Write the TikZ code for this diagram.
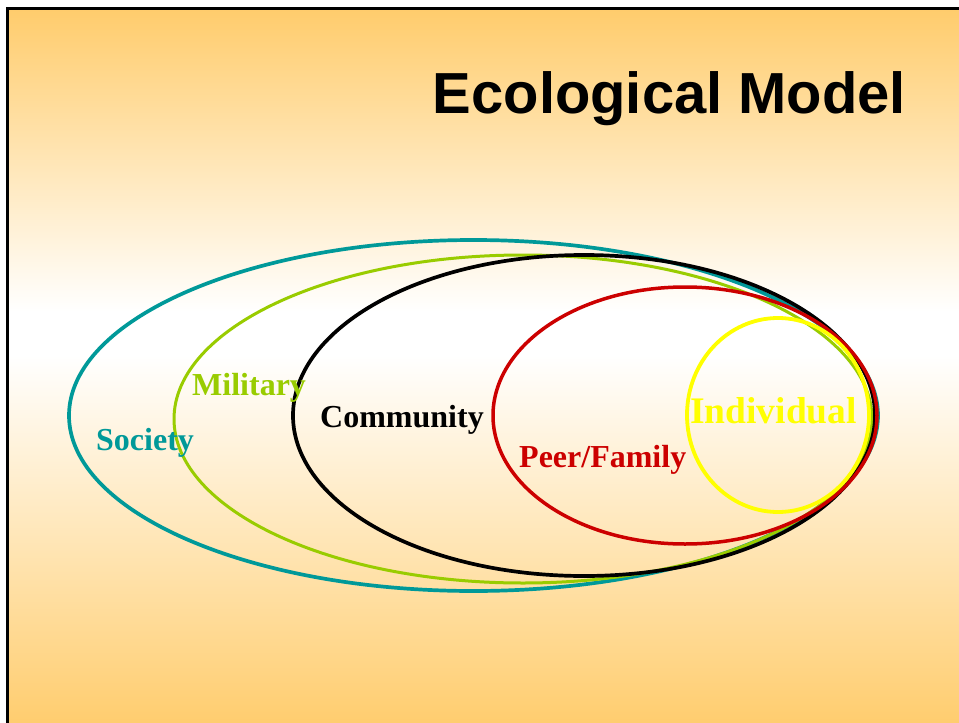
\documentclass[tikz,border=0pt]{standalone}
\usepackage{fontspec}
\setmainfont{Liberation Serif}
\newfontfamily\titlefont{Liberation Sans}
\usetikzlibrary{shapes.geometric}
\definecolor{orng}{RGB}{255,204,108}
\definecolor{societyc}{RGB}{0,153,153}
\definecolor{militaryc}{RGB}{153,204,0}
\definecolor{peerc}{RGB}{204,0,0}
\definecolor{indivc}{RGB}{255,255,0}
\pgfdeclareverticalshading{slidebg}{100bp}{color(0bp)=(orng); color(25bp)=(orng); color(51bp)=(white); color(54bp)=(white); color(75bp)=(orng); color(100bp)=(orng)}
\tikzset{
  ring/.style={ellipse, draw, inner sep=0pt, line width=3.7pt},
  lbl/.style={inner sep=0pt, anchor=base west, font=\bfseries\fontsize{32}{32}\selectfont},
}
\begin{document}
\begin{tikzpicture}[x=1pt,y=-1pt]
\useasboundingbox (0,0) rectangle (959,723);
\fill[white] (0,0) rectangle (959,723);
\fill[shading=slidebg] (7.5,8.5) rectangle (965,730);
\draw[line width=2.5pt] (7.5,730) -- (7.5,8.5) -- (965,8.5);
\node[inner sep=0pt, anchor=base east, font=\titlefont\bfseries\fontsize{57.9}{60}\selectfont] (title) at (906,113) {Ecological Model};
% rings
\node[ring, draw=societyc, minimum width=809pt, minimum height=351pt] (society) at (473.5,415.5) {};
\node[ring, draw=militaryc, line width=3pt, minimum width=698pt, minimum height=328pt] (military) at (523,419) {};
\node[ring, draw=black, minimum width=582pt, minimum height=321pt] (community) at (584,415.5) {};
\node[ring, draw=peerc, line width=3.5pt, minimum width=384pt, minimum height=257pt] (peer) at (685,415.5) {};
\node[ring, draw=indivc, line width=3.8pt, minimum width=182pt, minimum height=194pt] (individual) at (778,415) {};
% labels
\node[lbl, text=societyc] (societyl) at (96,450) {Society};
\node[lbl, text=militaryc] (militaryl) at (192,395) {Military};
\node[lbl, text=black] (communityl) at (320,427) {Community};
\node[lbl, text=peerc] (peerl) at (519,467) {Peer/Family};
\node[lbl, text=indivc, font=\bfseries\fontsize{37.5}{37.5}\selectfont] (individuall) at (690,423) {Individual};
\end{tikzpicture}
\end{document}
